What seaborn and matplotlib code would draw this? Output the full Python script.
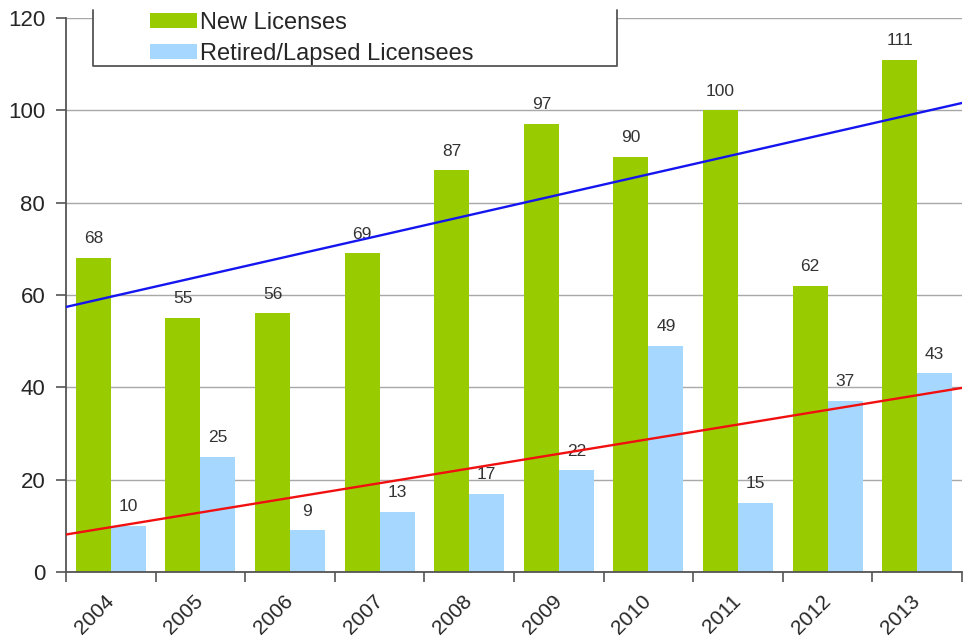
import numpy as np
import pandas as pd
import matplotlib
matplotlib.use("Agg")
import matplotlib.pyplot as plt
import seaborn as sns
from matplotlib.patches import Patch, Rectangle
from matplotlib.lines import Line2D

years = ['2004', '2005', '2006', '2007', '2008', '2009', '2010', '2011', '2012', '2013']
new_licenses = [68, 55, 56, 69, 87, 97, 90, 100, 62, 111]
retired = [10, 25, 9, 13, 17, 22, 49, 15, 37, 43]
series_names = ['New Licenses', 'Retired/Lapsed Licensees']
colors = ['#99CC00', '#A6D8FF']
trend_colors = ['#1515F0', '#F01010']

df = pd.DataFrame({
    'Year': years * 2,
    'Count': new_licenses + retired,
    'Series': [series_names[0]] * len(years) + [series_names[1]] * len(years),
})

sns.set_style('white')
plt.rcParams['font.family'] = ['Liberation Sans', 'DejaVu Sans']

W, H = 964, 637
fig = plt.figure(figsize=(W / 100, H / 100), dpi=100)
ax = fig.add_axes([66 / W, 1 - 572 / H, (962 - 66) / W, (572 - 18) / H])

sns.barplot(data=df, x='Year', y='Count', hue='Series', palette=colors,
            width=0.78, gap=0, saturation=1, legend=False, ax=ax, zorder=2,
            linewidth=0, edgecolor='none')

for cont in ax.containers:
    ax.bar_label(cont, fmt='%d', padding=8.5, fontsize=12.5, color='#333333')

xs = np.arange(len(years))
ends = np.array([-0.5, len(years) - 0.5])
for vals, c in zip([new_licenses, retired], trend_colors):
    coef = np.polyfit(xs, vals, 1)
    ax.plot(ends, np.polyval(coef, ends), color=c, lw=1.7, zorder=3)

ax.set_xlim(-0.5, len(years) - 0.5)
ax.set_ylim(0, 120)
ax.set_yticks(range(0, 121, 20))
ax.set_xticks(xs)
ax.set_xticklabels(years, rotation=45, ha='right', va='center', rotation_mode='anchor')
ax.set_xticks(np.arange(-0.5, len(years), 1), minor=True)
ax.tick_params(axis='x', which='major', length=0, labelsize=15, pad=19)
ax.tick_params(axis='x', which='minor', length=7, width=1.2, color='#555555', direction='out', bottom=True)
ax.tick_params(axis='y', length=7, width=1.2, color='#555555', direction='out', labelsize=16, pad=8, left=True)
ax.set_xlabel('')
ax.set_ylabel('')
ax.grid(axis='y', color='#A8A8A8', lw=1.0, zorder=0)
ax.set_axisbelow(True)
for s in ['top', 'right']:
    ax.spines[s].set_visible(False)
for s in ['left', 'bottom']:
    ax.spines[s].set_color('#555555')
    ax.spines[s].set_linewidth(1.3)

# legend box (top edge cut off by the figure edge)
fig.add_artist(Rectangle((93 / W, 1 - 66 / H), (617 - 93) / W, 60 / H,
                         transform=fig.transFigure, facecolor='white', edgecolor='none', zorder=5))
fig.add_artist(Line2D([93 / W, 93 / W, 617 / W, 617 / W],
                      [1 - 10 / H, 1 - 66 / H, 1 - 66 / H, 1 - 10 / H],
                      transform=fig.transFigure, color='#555555', lw=1.3, zorder=6))
handles = [Patch(facecolor=c, edgecolor='none') for c in colors]
fig.legend(handles, series_names, loc='upper left', bbox_to_anchor=(150 / W, 1 - 12 / H),
           frameon=False, fontsize=17, handlelength=2.0, handleheight=0.6,
           handletextpad=0.1, labelspacing=0.38, borderpad=0, borderaxespad=0)

fig.savefig('out.png', dpi=100)
